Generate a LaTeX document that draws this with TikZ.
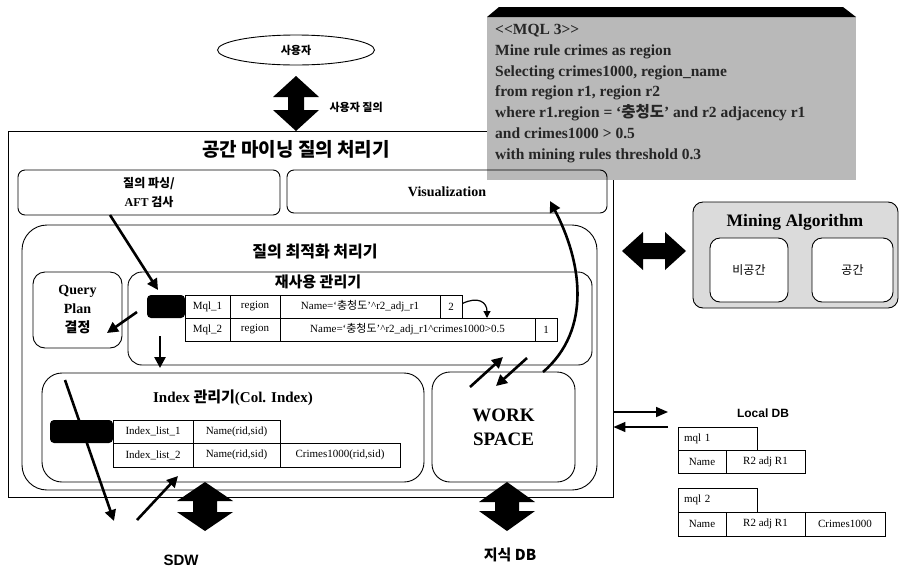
\documentclass[tikz,border=0pt]{standalone}
\usepackage{fontspec}
\setmainfont{Liberation Serif}
\newfontfamily\kr{Noto Sans CJK KR}
\newfontfamily\hs{Liberation Sans}
\usetikzlibrary{shapes.geometric,arrows.meta,calc}
\newcommand{\vdbl}[6]{\fill (#1,#2) -- ({#1+#4},{#2+#6}) -- ({#1+#5},{#2+#6}) -- ({#1+#5},{#3-#6}) -- ({#1+#4},{#3-#6}) -- (#1,#3) -- ({#1-#4},{#3-#6}) -- ({#1-#5},{#3-#6}) -- ({#1-#5},{#2+#6}) -- ({#1-#4},{#2+#6}) -- cycle;}
\newcommand{\hdbl}[6]{\fill (#2,#1) -- ({#2+#6},{#1-#4}) -- ({#2+#6},{#1-#5}) -- ({#3-#6},{#1-#5}) -- ({#3-#6},{#1-#4}) -- (#3,#1) -- ({#3-#6},{#1+#4}) -- ({#3-#6},{#1+#5}) -- ({#2+#6},{#1+#5}) -- ({#2+#6},{#1+#4}) -- cycle;}
\begin{document}
\begin{tikzpicture}[x=1pt,y=-1pt,
  rbox/.style={draw, line width=0.9pt, inner sep=0pt},
  cell/.style={draw, line width=0.8pt, inner sep=0pt, minimum height=23pt, font=\fontsize{11}{12}\selectfont},
  blk/.style={fill=black, rounded corners=4pt, inner sep=0pt, minimum height=23pt},
  arr/.style={line width=2.6pt, -{Triangle[length=11pt,width=11pt]}},
  thinarr/.style={line width=1.6pt, -{Triangle[length=12pt,width=10pt]}},
  ktitle/.style={font=\kr\bfseries\fontsize{19}{21}\selectfont},
]
\useasboundingbox (0,0) rectangle (901,576);
\fill[white] (0,0) rectangle (901,576);

% user
\node[draw, ellipse, line width=0.9pt, minimum width=157pt, minimum height=30pt, inner sep=0pt, font=\kr\bfseries\fontsize{11}{13}\selectfont] (user) at (296,50) {사용자};
\vdbl{296}{76}{131}{23}{8}{21}
\node[anchor=west, font=\kr\bfseries\fontsize{11}{13}\selectfont] (uq) at (326,107) {사용자 질의};

% main processor box
\node[rbox, minimum width=605pt, minimum height=366pt] (main) at (310.5,314) {};
\node[ktitle] (maint) at (296,149) {공간 마이닝 질의 처리기};

% SQL box (drawn over the main box)
\fill[gray!55] (487,17) rectangle (856,180);
\fill[black] (487,17) -- (499,7) -- (843,7) -- (856,17) -- cycle;
\node[anchor=north west, align=left, inner sep=0pt, font=\bfseries\fontsize{15.5}{20.8}\selectfont, text=black!85] (sql) at (495,24) {%
<{}<MQL 3>{}>\\
Mine rule crimes as region\\
Selecting crimes1000, region\_name\\
from region r1, region r2\\
where r1.region = `{\kr 충청도}' and r2 adjacency r1\\
and crimes1000 > 0.5\\
with mining rules threshold 0.3};

\node[rbox, rounded corners=7pt, minimum width=262pt, minimum height=45pt, align=center, font=\kr\bfseries\fontsize{12}{19}\selectfont] (parse) at (149,192.5) {질의 파싱/\\{\rmfamily\bfseries AFT} 검사};
\node[rbox, rounded corners=7pt, minimum width=320pt, minimum height=43pt, font=\bfseries\fontsize{14}{16}\selectfont] (vis) at (447,191.5) {Visualization};

% optimizer container
\node[rbox, rounded corners=25pt, minimum width=575pt, minimum height=265pt] (opt) at (309.5,357.5) {};
\node[font=\kr\bfseries\fontsize{16}{18}\selectfont] (optt) at (315,252) {질의 최적화 처리기};

% query plan
\node[rbox, rounded corners=12pt, minimum width=89pt, minimum height=76pt, align=center, font=\bfseries\fontsize{14}{19}\selectfont] (qp) at (77.5,310) {Query\\Plan\\{\kr 결정}};

% reuse manager
\node[rbox, rounded corners=14pt, minimum width=464pt, minimum height=93pt] (reuse) at (360,318.5) {};
\node[font=\kr\bfseries\fontsize{15}{17}\selectfont] (reuset) at (318,282) {재사용 관리기};
\node[blk, minimum width=38pt] (rh) at (166,306.5) {};
\node[cell, minimum width=45pt] (r11) at (207.5,306.5) {Mql\_1};
\node[cell, minimum width=50pt] (r12) at (255,306.5) {region};
\node[cell, minimum width=160pt] (r13) at (360,306.5) {Name=`{\kr 충청도}'\textasciicircum r2\_adj\_r1};
\node[cell, minimum width=22pt] (r14) at (451,306.5) {2};
\node[cell, minimum width=45pt] (r21) at (207.5,329.5) {Mql\_2};
\node[cell, minimum width=50pt] (r22) at (255,329.5) {region};
\node[cell, minimum width=255pt] (r23) at (407.5,329.5) {Name=`{\kr 충청도}'\textasciicircum r2\_adj\_r1\textasciicircum crimes1000>0.5};
\node[cell, minimum width=22pt] (r24) at (546,329.5) {1};
\coordinate (c2) at (487,318);
\draw[line width=1.2pt, -{Triangle[length=7pt,width=7pt]}] (r14.east) ++(0,-3) .. controls (478,296) and (487,302) .. (c2);

% index manager
\node[rbox, rounded corners=20pt, minimum width=382pt, minimum height=109pt] (idx) at (233,427.5) {};
\node[font=\bfseries\fontsize{15}{17}\selectfont] (idxt) at (233,398) {Index {\kr 관리기}(Col. Index)};
\node[blk, minimum width=63pt] (ih) at (81.5,431.5) {};
\node[cell, minimum width=80pt] (i11) at (153,431.5) {Index\_list\_1};
\node[cell, minimum width=87pt] (i12) at (236.5,431.5) {Name(rid,sid)};
\node[cell, minimum width=80pt, minimum height=24pt] (i21) at (153,455) {Index\_list\_2};
\node[cell, minimum width=87pt, minimum height=24pt] (i22) at (236.5,455) {Name(rid,sid)};
\node[cell, minimum width=120pt, minimum height=24pt] (i23) at (340,455) {Crimes1000(rid,sid)};

% work space
\node[rbox, rounded corners=18pt, minimum width=143pt, minimum height=110pt, align=center, font=\bfseries\fontsize{19}{24}\selectfont] (ws) at (503.5,427) {WORK\\SPACE};

% mining algorithm
\node[rbox, fill=gray!28, rounded corners=10pt, minimum width=205pt, minimum height=106pt] (mine) at (795.5,255) {};
\node[font=\bfseries\fontsize{17.5}{19}\selectfont] (minet) at (795,222) {Mining Algorithm};
\node[rbox, fill=white, rounded corners=10pt, minimum width=78pt, minimum height=64pt, font=\kr\fontsize{12}{14}\selectfont] (ns) at (749,270) {비공간};
\node[rbox, fill=white, rounded corners=10pt, minimum width=81pt, minimum height=64pt, font=\kr\fontsize{12}{14}\selectfont] (sp) at (852.5,270) {공간};
\hdbl{251}{622}{686}{19}{8}{21}

% local DB
\node[font=\hs\bfseries\fontsize{12}{14}\selectfont] (ldb) at (763,413) {Local DB};
\node[cell, minimum width=79pt, text width=67pt, align=left] (m1) at (717.5,438.5) {mql 1};
\node[cell, minimum width=48pt] (m11) at (702,461.5) {Name};
\node[cell, minimum width=79pt] (m12) at (765.5,461.5) {R2 adj R1};
\node[cell, minimum width=79pt, text width=67pt, align=left, minimum height=24pt] (m2) at (717.5,500) {mql 2};
\node[cell, minimum width=48pt, minimum height=24pt] (m21) at (702,524) {Name};
\node[cell, minimum width=79pt, minimum height=24pt] (m22) at (765.5,524) {R2 adj R1};
\node[cell, minimum width=80pt, minimum height=24pt] (m23) at (845,524) {Crimes1000};

\coordinate (lo1) at (668,412);
\coordinate (lo2) at (668,427);
\draw[thinarr] (main.east |- lo1) -- (lo1);
\draw[thinarr] (lo2) -- (main.east |- lo2);

% bottom
\vdbl{205}{482}{531}{28}{12}{19}
\vdbl{507}{482}{531}{28}{12}{20}
\node[font=\hs\bfseries\fontsize{15}{17}\selectfont] (sdw) at (181,560) {SDW};
\node[font=\kr\bfseries\fontsize{15}{17}\selectfont] (kdb) at (510,555) {지식 DB};

% arrows
\coordinate (a1s) at (110,215);
\coordinate (a1e) at (158,290);
\draw[arr] (a1s) -- (a1e);
\coordinate (a2s) at (137,312);
\coordinate (a2e) at (107,333);
\draw[arr] (a2s) -- (a2e);
\coordinate (a3s) at (160,336);
\coordinate (a3e) at (160,368);
\draw[arr] (a3s) -- (a3e);
\coordinate (a4s) at (65,380);
\coordinate (a4e) at (114,521);
\draw[arr] (a4s) -- (a4e);
\coordinate (a5s) at (137,520);
\coordinate (a5e) at (178,476);
\draw[arr] (a5s) -- (a5e);
\coordinate (a6s) at (470,387);
\coordinate (a6e) at (503,357);
\draw[arr] (a6s) -- (a6e);
\coordinate (a7s) at (527,358);
\coordinate (a7e) at (496,386);
\draw[arr] (a7s) -- (a7e);
\coordinate (cvs) at (543,372);
\coordinate (cve) at (550,201);
\draw[arr] (cvs) .. controls (592,330) and (582,262) .. (cve);
\end{tikzpicture}
\end{document}
